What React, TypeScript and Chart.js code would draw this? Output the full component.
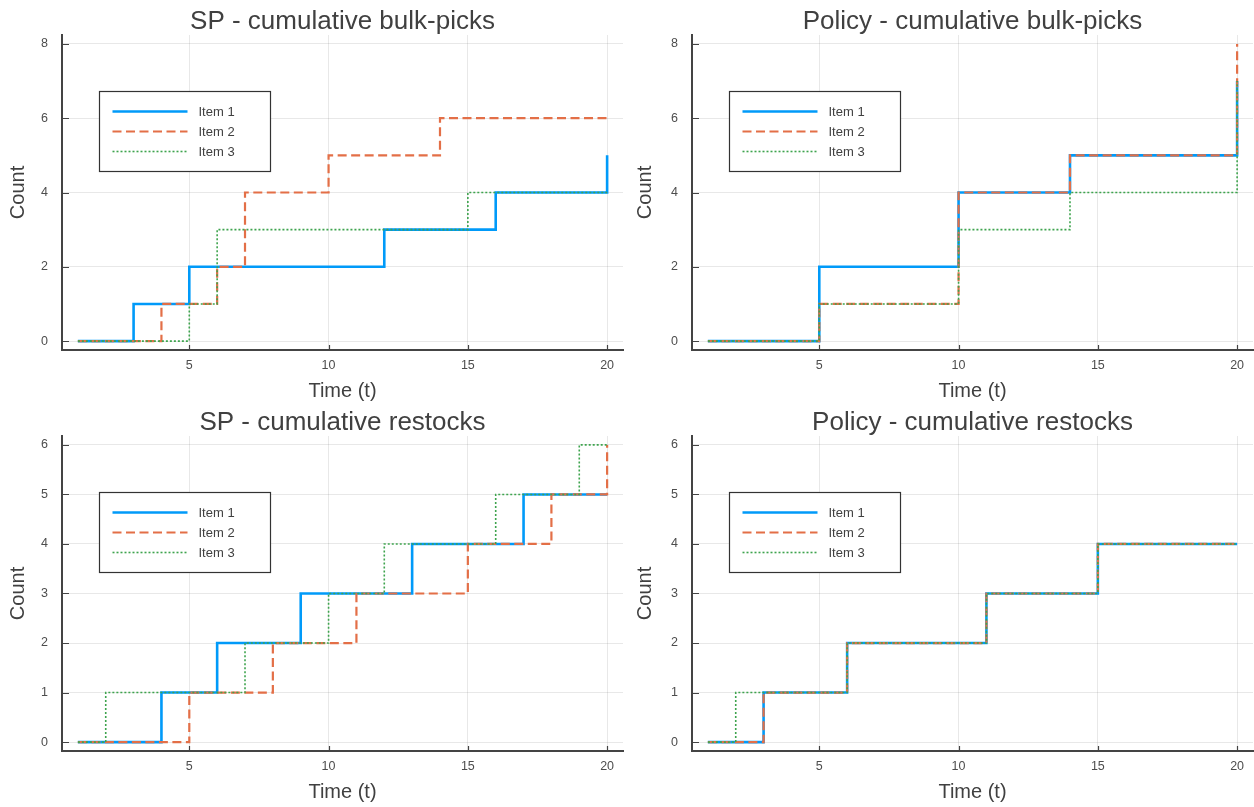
import React, { useEffect, useRef } from "react";
import { Chart, registerables } from "chart.js";

Chart.register(...registerables);

// Time steps shared by every panel
const timeSteps = [1, 2, 3, 4, 5, 6, 7, 8, 9, 10, 11, 12, 13, 14, 15, 16, 17, 18, 19, 20];
const itemLabels = ["Item 1", "Item 2", "Item 3"];

// SP - cumulative bulk-picks
const spBulkItem1 = [0, 0, 1, 1, 2, 2, 2, 2, 2, 2, 2, 3, 3, 3, 3, 4, 4, 4, 4, 5];
const spBulkItem2 = [0, 0, 0, 1, 1, 2, 4, 4, 4, 5, 5, 5, 5, 6, 6, 6, 6, 6, 6, 6];
const spBulkItem3 = [0, 0, 0, 0, 1, 3, 3, 3, 3, 3, 3, 3, 3, 3, 4, 4, 4, 4, 4, 4];

// Policy - cumulative bulk-picks
const policyBulkItem1 = [0, 0, 0, 0, 2, 2, 2, 2, 2, 4, 4, 4, 4, 5, 5, 5, 5, 5, 5, 7];
const policyBulkItem2 = [0, 0, 0, 0, 1, 1, 1, 1, 1, 4, 4, 4, 4, 5, 5, 5, 5, 5, 5, 8];
const policyBulkItem3 = [0, 0, 0, 0, 1, 1, 1, 1, 1, 3, 3, 3, 3, 4, 4, 4, 4, 4, 4, 7];

// SP - cumulative restocks
const spRestockItem1 = [0, 0, 0, 1, 1, 2, 2, 2, 3, 3, 3, 3, 4, 4, 4, 4, 5, 5, 5, 5];
const spRestockItem2 = [0, 0, 0, 0, 1, 1, 1, 2, 2, 2, 3, 3, 3, 3, 4, 4, 4, 5, 5, 6];
const spRestockItem3 = [0, 1, 1, 1, 1, 1, 2, 2, 2, 3, 3, 4, 4, 4, 4, 5, 5, 5, 6, 6];

// Policy - cumulative restocks
const policyRestockItem1 = [0, 0, 1, 1, 1, 2, 2, 2, 2, 2, 3, 3, 3, 3, 4, 4, 4, 4, 4, 4];
const policyRestockItem2 = [0, 0, 1, 1, 1, 2, 2, 2, 2, 2, 3, 3, 3, 3, 4, 4, 4, 4, 4, 4];
const policyRestockItem3 = [0, 1, 1, 1, 1, 2, 2, 2, 2, 2, 3, 3, 3, 3, 4, 4, 4, 4, 4, 4];

// Tick labels
const xTickValues = [5, 10, 15, 20];
const bulkYTicks = [0, 2, 4, 6, 8];
const restockYTicks = [0, 1, 2, 3, 4, 5, 6];

const FONT = "'Liberation Sans', Arial, Helvetica, sans-serif";
const TEXT_COLOR = "#404040";
const AXIS_COLOR = "#444444";
const GRID_COLOR = "rgba(0,0,0,0.09)";

const seriesStyles = [
  { color: "#009AF9", width: 2.6, dash: [] as number[] },
  { color: "#E36F47", width: 2.2, dash: [9, 4.5] },
  { color: "#3EA44E", width: 1.6, dash: [2, 2] },
];

// Small tick marks pointing into the plot area
const innerTicksPlugin = {
  id: "innerTicks",
  afterDraw(chart: any) {
    const { ctx, chartArea, scales } = chart;
    ctx.save();
    ctx.strokeStyle = AXIS_COLOR;
    ctx.lineWidth = 1.2;
    ctx.beginPath();
    for (const t of scales.y.ticks) {
      const y = Math.round(scales.y.getPixelForValue(t.value)) + 0.5;
      ctx.moveTo(chartArea.left, y);
      ctx.lineTo(chartArea.left + 7, y);
    }
    for (const t of scales.x.ticks) {
      const x = Math.round(scales.x.getPixelForValue(t.value)) + 0.5;
      ctx.moveTo(x, chartArea.bottom);
      ctx.lineTo(x, chartArea.bottom - 5);
    }
    ctx.stroke();
    ctx.restore();
  },
};

// Boxed legend inside the upper-left part of the plot area
const boxedLegendPlugin = {
  id: "boxedLegend",
  afterDraw(chart: any) {
    const { ctx, chartArea } = chart;
    const bx = Math.round(chartArea.left + 37) + 0.5;
    const by = Math.round(chartArea.top + 56) + 0.5;
    const bw = 171;
    const bh = 80;
    ctx.save();
    ctx.fillStyle = "#ffffff";
    ctx.fillRect(bx, by, bw, bh);
    ctx.strokeStyle = "#333333";
    ctx.lineWidth = 1.2;
    ctx.setLineDash([]);
    ctx.strokeRect(bx, by, bw, bh);
    chart.data.datasets.forEach((ds: any, i: number) => {
      const y = by + 20 + i * 20;
      ctx.beginPath();
      ctx.strokeStyle = ds.borderColor;
      ctx.lineWidth = ds.borderWidth;
      ctx.setLineDash(ds.borderDash || []);
      ctx.moveTo(bx + 13, y);
      ctx.lineTo(bx + 88, y);
      ctx.stroke();
      ctx.setLineDash([]);
      ctx.fillStyle = TEXT_COLOR;
      ctx.font = `13px ${FONT}`;
      ctx.textAlign = "left";
      ctx.textBaseline = "middle";
      ctx.fillText(ds.label, bx + 99, y + 0.5);
    });
    ctx.restore();
  },
};

type PanelProps = {
  title: string;
  series: number[][];
  yTicks: number[];
  yMin: number;
  yMax: number;
  left: number;
  top: number;
  yAxisWidth: number;
  padRight: number;
};

const PANEL_W = 627;
const PANEL_H = 403;

function StepPanel({ title, series, yTicks, yMin, yMax, left, top, yAxisWidth, padRight }: PanelProps) {
  const ref = useRef<HTMLCanvasElement | null>(null);

  useEffect(() => {
    if (!ref.current) return;
    const chart = new Chart(ref.current, {
      type: "line",
      data: {
        datasets: series.map((vals, i) => ({
          label: itemLabels[i],
          data: timeSteps.map((t, j) => ({ x: t, y: vals[j] })),
          borderColor: seriesStyles[i].color,
          backgroundColor: seriesStyles[i].color,
          borderWidth: seriesStyles[i].width,
          borderDash: seriesStyles[i].dash,
          stepped: "before",
          pointRadius: 0,
          fill: false,
          order: 2 - i,
        })),
      },
      options: {
        animation: false,
        responsive: false,
        devicePixelRatio: 1,
        layout: { padding: { left: 0, right: padRight, top: 0, bottom: 0 } },
        plugins: {
          legend: { display: false },
          tooltip: { enabled: false },
          title: {
            display: true,
            text: title,
            fullSize: false,
            color: TEXT_COLOR,
            font: { family: FONT, size: 26, weight: "normal", lineHeight: "27px" },
            padding: { top: 8, bottom: 0 },
          },
        },
        scales: {
          x: {
            type: "linear",
            min: 0.43,
            max: 20.57,
            afterBuildTicks: (s: any) => {
              s.ticks = xTickValues.map((v) => ({ value: v }));
            },
            afterFit: (s: any) => {
              s.height = 53;
            },
            grid: { color: GRID_COLOR, lineWidth: 1, drawTicks: false },
            border: { display: true, color: AXIS_COLOR, width: 2 },
            ticks: { padding: 8, color: "#4d4d4d", font: { family: FONT, size: 12.5 }, maxRotation: 0 },
            title: {
              display: true,
              text: "Time (t)",
              color: TEXT_COLOR,
              font: { family: FONT, size: 20 },
              padding: { top: 0, bottom: 0 },
            },
          },
          y: {
            type: "linear",
            min: yMin,
            max: yMax,
            afterBuildTicks: (s: any) => {
              s.ticks = yTicks.map((v) => ({ value: v }));
            },
            afterFit: (s: any) => {
              s.width = yAxisWidth;
            },
            grid: { color: GRID_COLOR, lineWidth: 1, drawTicks: false },
            border: { display: true, color: AXIS_COLOR, width: 2 },
            ticks: { padding: 14, color: "#4d4d4d", font: { family: FONT, size: 12.5 } },
            title: {
              display: true,
              text: "Count",
              color: TEXT_COLOR,
              font: { family: FONT, size: 20 },
              padding: { top: 6, bottom: 0 },
            },
          },
        },
      } as any,
      plugins: [innerTicksPlugin, boxedLegendPlugin],
    });
    return () => chart.destroy();
  }, [title, series, yTicks, yMin, yMax, yAxisWidth, padRight]);

  return (
    <canvas
      ref={ref}
      width={PANEL_W}
      height={PANEL_H}
      style={{ position: "absolute", left, top, width: PANEL_W, height: PANEL_H }}
    />
  );
}

export default function App() {
  return (
    <div
      style={{
        position: "absolute",
        left: 0,
        top: 0,
        width: 1254,
        height: 807,
        background: "#ffffff",
        overflow: "hidden",
      }}
    >
      <StepPanel
        title="SP - cumulative bulk-picks"
        series={[spBulkItem1, spBulkItem2, spBulkItem3]}
        yTicks={bulkYTicks}
        yMin={-0.24}
        yMax={8.24}
        left={0}
        top={0}
        yAxisWidth={62}
        padRight={4}
      />
      <StepPanel
        title="Policy - cumulative bulk-picks"
        series={[policyBulkItem1, policyBulkItem2, policyBulkItem3]}
        yTicks={bulkYTicks}
        yMin={-0.24}
        yMax={8.24}
        left={627}
        top={0}
        yAxisWidth={65}
        padRight={1}
      />
      <StepPanel
        title="SP - cumulative restocks"
        series={[spRestockItem1, spRestockItem2, spRestockItem3]}
        yTicks={restockYTicks}
        yMin={-0.18}
        yMax={6.18}
        left={0}
        top={401}
        yAxisWidth={62}
        padRight={4}
      />
      <StepPanel
        title="Policy - cumulative restocks"
        series={[policyRestockItem1, policyRestockItem2, policyRestockItem3]}
        yTicks={restockYTicks}
        yMin={-0.18}
        yMax={6.18}
        left={627}
        top={401}
        yAxisWidth={65}
        padRight={1}
      />
    </div>
  );
}
